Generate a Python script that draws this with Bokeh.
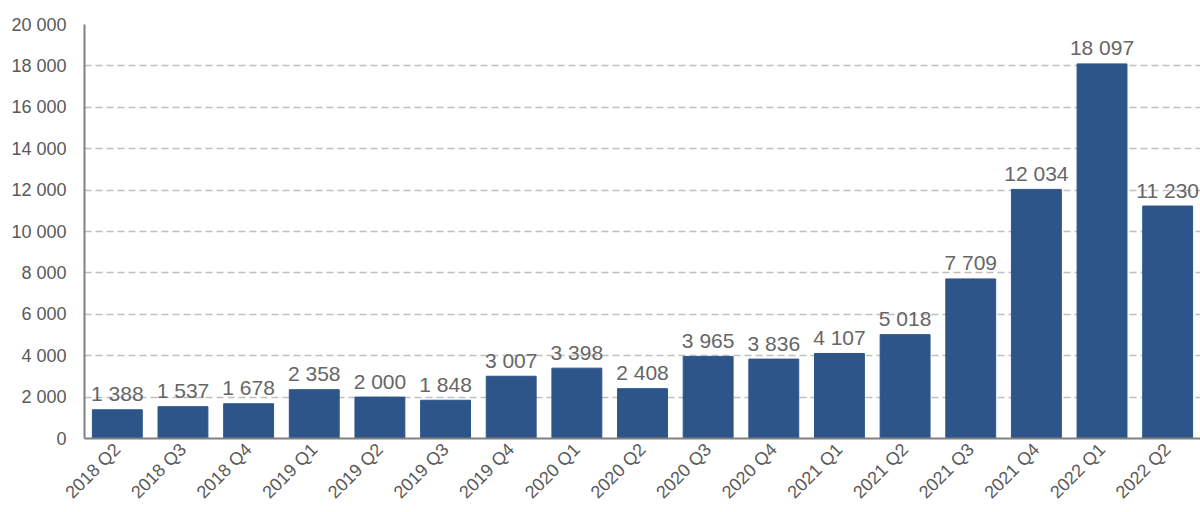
from bokeh.plotting import figure
from bokeh.models import ColumnDataSource, FactorRange, Range1d, CustomJSTickFormatter, SingleIntervalTicker
from bokeh.core.properties import value
from bokeh.embed import file_html
from bokeh.resources import INLINE
import math

quarters = ["2018 Q2", "2018 Q3", "2018 Q4", "2019 Q1", "2019 Q2", "2019 Q3", "2019 Q4",
            "2020 Q1", "2020 Q2", "2020 Q3", "2020 Q4", "2021 Q1", "2021 Q2", "2021 Q3",
            "2021 Q4", "2022 Q1", "2022 Q2"]
values = [1388, 1537, 1678, 2358, 2000, 1848, 3007, 3398, 2408, 3965, 3836, 4107, 5018,
          7709, 12034, 18097, 11230]

labels = ["{:,}".format(v).replace(",", " ") for v in values]
src = ColumnDataSource(dict(q=quarters, v=values, lab=labels))

p = figure(x_range=FactorRange(*quarters, range_padding=0), y_range=Range1d(0, 20000),
           width=1200, height=512, output_backend="svg", toolbar_location=None,
           min_border_top=24, min_border_right=0, min_border_left=84, min_border_bottom=72)
p.outline_line_color = None

p.vbar(x="q", top="v", width=0.76, source=src, color="#2E5589")
p.text(x="q", y="v", text="lab", source=src, text_align="center", text_baseline="alphabetic",
       y_offset=-16, text_color="#666666", text_font=value("Liberation Sans"),
       text_font_size="21px")

p.yaxis.ticker = SingleIntervalTicker(interval=2000)
p.yaxis.formatter = CustomJSTickFormatter(code="return tick.toString().replace(/\\B(?=(\\d{3})+(?!\\d))/g, ' ');")
for ax in (p.xaxis, p.yaxis):
    ax.axis_line_color = "#808080"
    ax.axis_line_width = 2
    ax.major_tick_line_color = None
    ax.minor_tick_line_color = None
    ax.major_label_text_color = "#595959"
    ax.major_label_text_font = "Liberation Sans"
    ax.major_label_text_font_size = "18px"
p.xaxis.major_label_orientation = math.pi / 4
p.xaxis.major_label_standoff = 2
p.yaxis.major_label_standoff = 12

p.xgrid.grid_line_color = None
p.ygrid.grid_line_color = "#BFBFBF"
p.ygrid.grid_line_dash = "7 4"
p.ygrid.grid_line_width = 1.3

open("out.html", "w").write(file_html(p, INLINE))
